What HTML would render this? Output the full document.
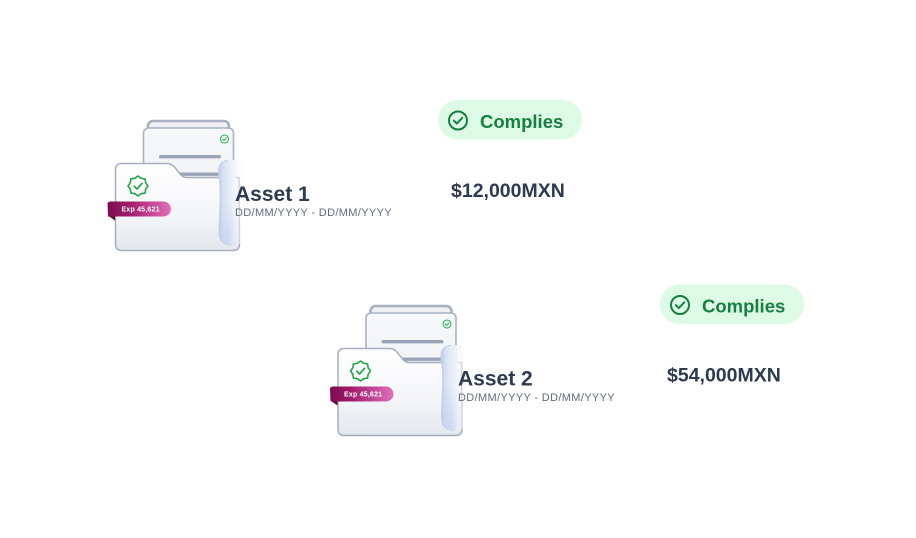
<!DOCTYPE html>
<html>
<head>
<meta charset="utf-8">
<style>
  html,body{margin:0;padding:0;background:#ffffff;}
  body{width:916px;height:538px;overflow:hidden;position:relative;font-family:"Liberation Sans",sans-serif;}
  svg{position:absolute;left:0;top:0;}
</style>
</head>
<body>
<svg width="916" height="538" viewBox="0 0 916 538" xmlns="http://www.w3.org/2000/svg">
  <defs>
    <linearGradient id="paperG" x1="0" y1="0" x2="0" y2="1">
      <stop offset="0" stop-color="#f7f8fa"/>
      <stop offset="1" stop-color="#eceef3"/>
    </linearGradient>
    <linearGradient id="frontG" x1="0" y1="0" x2="0" y2="1">
      <stop offset="0" stop-color="#ffffff"/>
      <stop offset="0.6" stop-color="#f4f5f8"/>
      <stop offset="1" stop-color="#e4e7ed"/>
    </linearGradient>
    <linearGradient id="labelG" x1="0" y1="0" x2="1" y2="0">
      <stop offset="0" stop-color="#7c0a4e"/>
      <stop offset="0.35" stop-color="#a41c6e"/>
      <stop offset="1" stop-color="#df70ba"/>
    </linearGradient>
    <linearGradient id="glassG" x1="0" y1="0" x2="1" y2="0">
      <stop offset="0" stop-color="#bccbe8"/>
      <stop offset="0.2" stop-color="#dae2f3"/>
      <stop offset="0.55" stop-color="#f0f3fa"/>
      <stop offset="1" stop-color="#ffffff" stop-opacity="0"/>
    </linearGradient>
    <radialGradient id="glassB" cx="0.3" cy="0.95" r="0.5">
      <stop offset="0" stop-color="#c2d0ee" stop-opacity="0.7"/>
      <stop offset="1" stop-color="#c2d0ee" stop-opacity="0"/>
    </radialGradient>
  </defs>

  <!-- FOLDER 1 -->
  <g id="f1">
    <rect x="148" y="121" width="81" height="60" rx="5" fill="#eef0f4" stroke="#a7afc0" stroke-width="2.5"/>
    <rect x="143.5" y="128" width="90" height="115" rx="5" fill="url(#paperG)" stroke="#a9b1c2" stroke-width="1.6"/>
    <circle cx="224.5" cy="139" r="4" fill="none" stroke="#2fb456" stroke-width="1.1"/>
    <path d="M222.6,139.1 L224,140.5 L226.4,137.9" fill="none" stroke="#2fb456" stroke-width="1.1" stroke-linecap="round" stroke-linejoin="round"/>
    <rect x="159" y="155" width="62" height="3.4" rx="1.7" fill="#9ba4b6"/>
    <rect x="178" y="172.5" width="42" height="3.4" rx="1.7" fill="#9ba4b6"/>
    <path d="M115.5,170 Q115.5,163.5 122,163.5 L167,163.5 Q171,163.5 174,166.5 L181,175 Q183,177.5 187,177.5 L239,177.5 L239.5,244 Q239.5,250.5 233,250.5 L122,250.5 Q115.5,250.5 115.5,244 Z" fill="url(#frontG)" stroke="#a5adbf" stroke-width="1.5"/>
    <g transform="translate(138,186)">
      <polygon points="0,-10 3.18,-7.67 7.07,-7.07 7.67,-3.18 10,0 7.67,3.18 7.07,7.07 3.18,7.67 0,10 -3.18,7.67 -7.07,7.07 -7.67,3.18 -10,0 -7.67,-3.18 -7.07,-7.07 -3.18,-7.67" fill="none" stroke="#22a54b" stroke-width="1.6" stroke-linejoin="round"/>
      <path d="M-3.8,0.2 L-1,3 L4,-2.6" fill="none" stroke="#22a54b" stroke-width="1.7" stroke-linecap="round" stroke-linejoin="round"/>
    </g>
    <path d="M108.5,216 L115,216 L115,220.5 Z" fill="#5e0639"/>
    <path d="M109.5,201.5 L163.5,201.5 A7.5,7.5 0 0 1 163.5,216.5 L108,216.5 L107.5,203 Z" fill="url(#labelG)"/>
    <text x="121.5" y="211.6" font-family="Liberation Sans, sans-serif" font-size="7" font-weight="bold" fill="#ffffff" letter-spacing="0.2">Exp 45,621</text>
    <path d="M228,160 Q218,160.5 218,172 Q220.5,189 219.5,205 L218.5,232 Q218.5,245.5 231,245.5 Q244,245.5 246,236 L246,170 Q246,160 236,160 Z" fill="url(#glassG)"/>
    <path d="M228,160 Q218,160.5 218,172 Q220.5,189 219.5,205 L218.5,232 Q218.5,245.5 231,245.5 Q244,245.5 246,236 L246,170 Q246,160 236,160 Z" fill="url(#glassB)"/>
    <path d="M228,160.5 Q218.5,161 218.5,172 Q221,189 220,205 L219,232 Q219,244.5 231,245" fill="none" stroke="#c3d0ea" stroke-width="1"/>
  </g>

  <!-- FOLDER 2 -->
  <g transform="translate(222.5,185)">
    <rect x="148" y="121" width="81" height="60" rx="5" fill="#eef0f4" stroke="#a7afc0" stroke-width="2.5"/>
    <rect x="143.5" y="128" width="90" height="115" rx="5" fill="url(#paperG)" stroke="#a9b1c2" stroke-width="1.6"/>
    <circle cx="224.5" cy="139" r="4" fill="none" stroke="#2fb456" stroke-width="1.1"/>
    <path d="M222.6,139.1 L224,140.5 L226.4,137.9" fill="none" stroke="#2fb456" stroke-width="1.1" stroke-linecap="round" stroke-linejoin="round"/>
    <rect x="159" y="155" width="62" height="3.4" rx="1.7" fill="#9ba4b6"/>
    <rect x="178" y="172.5" width="42" height="3.4" rx="1.7" fill="#9ba4b6"/>
    <path d="M115.5,170 Q115.5,163.5 122,163.5 L167,163.5 Q171,163.5 174,166.5 L181,175 Q183,177.5 187,177.5 L239,177.5 L239.5,244 Q239.5,250.5 233,250.5 L122,250.5 Q115.5,250.5 115.5,244 Z" fill="url(#frontG)" stroke="#a5adbf" stroke-width="1.5"/>
    <g transform="translate(138,186)">
      <polygon points="0,-10 3.18,-7.67 7.07,-7.07 7.67,-3.18 10,0 7.67,3.18 7.07,7.07 3.18,7.67 0,10 -3.18,7.67 -7.07,7.07 -7.67,3.18 -10,0 -7.67,-3.18 -7.07,-7.07 -3.18,-7.67" fill="none" stroke="#22a54b" stroke-width="1.6" stroke-linejoin="round"/>
      <path d="M-3.8,0.2 L-1,3 L4,-2.6" fill="none" stroke="#22a54b" stroke-width="1.7" stroke-linecap="round" stroke-linejoin="round"/>
    </g>
    <path d="M108.5,216 L115,216 L115,220.5 Z" fill="#5e0639"/>
    <path d="M109.5,201.5 L163.5,201.5 A7.5,7.5 0 0 1 163.5,216.5 L108,216.5 L107.5,203 Z" fill="url(#labelG)"/>
    <text x="121.5" y="211.6" font-family="Liberation Sans, sans-serif" font-size="7" font-weight="bold" fill="#ffffff" letter-spacing="0.2">Exp 45,621</text>
    <path d="M228,160 Q218,160.5 218,172 Q220.5,189 219.5,205 L218.5,232 Q218.5,245.5 231,245.5 Q244,245.5 246,236 L246,170 Q246,160 236,160 Z" fill="url(#glassG)"/>
    <path d="M228,160 Q218,160.5 218,172 Q220.5,189 219.5,205 L218.5,232 Q218.5,245.5 231,245.5 Q244,245.5 246,236 L246,170 Q246,160 236,160 Z" fill="url(#glassB)"/>
    <path d="M228,160.5 Q218.5,161 218.5,172 Q221,189 220,205 L219,232 Q219,244.5 231,245" fill="none" stroke="#c3d0ea" stroke-width="1"/>
  </g>

  <!-- Text asset 1 -->
  <text x="235" y="201" font-family="Liberation Sans, sans-serif" font-size="21" font-weight="bold" fill="#2e3a50">Asset 1</text>
  <text x="235" y="216" font-family="Liberation Sans, sans-serif" font-size="11" fill="#5f6a7e" letter-spacing="0.35">DD/MM/YYYY - DD/MM/YYYY</text>

  <!-- Text asset 2 -->
  <text x="458" y="385.5" font-family="Liberation Sans, sans-serif" font-size="21" font-weight="bold" fill="#2e3a50">Asset 2</text>
  <text x="458" y="401" font-family="Liberation Sans, sans-serif" font-size="11" fill="#5f6a7e" letter-spacing="0.35">DD/MM/YYYY - DD/MM/YYYY</text>

  <!-- Pill 1 -->
  <rect x="438" y="100" width="144" height="39.5" rx="19.75" fill="#dcfae5"/>
  <circle cx="458" cy="120.5" r="9" fill="none" stroke="#17803e" stroke-width="2"/>
  <path d="M453.8,120.6 L456.8,123.6 L462.3,117.8" fill="none" stroke="#17803e" stroke-width="2" stroke-linecap="round" stroke-linejoin="round"/>
  <text x="480" y="128" font-family="Liberation Sans, sans-serif" font-size="18.5" font-weight="bold" fill="#17803e">Complies</text>

  <!-- Price 1 -->
  <text x="451" y="197" font-family="Liberation Sans, sans-serif" font-size="19.5" font-weight="bold" fill="#2e3a50">$12,000MXN</text>

  <!-- Pill 2 -->
  <rect x="660" y="284.5" width="144" height="39.5" rx="19.75" fill="#dcfae5"/>
  <circle cx="680" cy="305" r="9" fill="none" stroke="#17803e" stroke-width="2"/>
  <path d="M675.8,305.1 L678.8,308.1 L684.3,302.3" fill="none" stroke="#17803e" stroke-width="2" stroke-linecap="round" stroke-linejoin="round"/>
  <text x="702" y="312.5" font-family="Liberation Sans, sans-serif" font-size="18.5" font-weight="bold" fill="#17803e">Complies</text>

  <!-- Price 2 -->
  <text x="667" y="381.5" font-family="Liberation Sans, sans-serif" font-size="19.5" font-weight="bold" fill="#2e3a50">$54,000MXN</text>
</svg>
</body>
</html>
